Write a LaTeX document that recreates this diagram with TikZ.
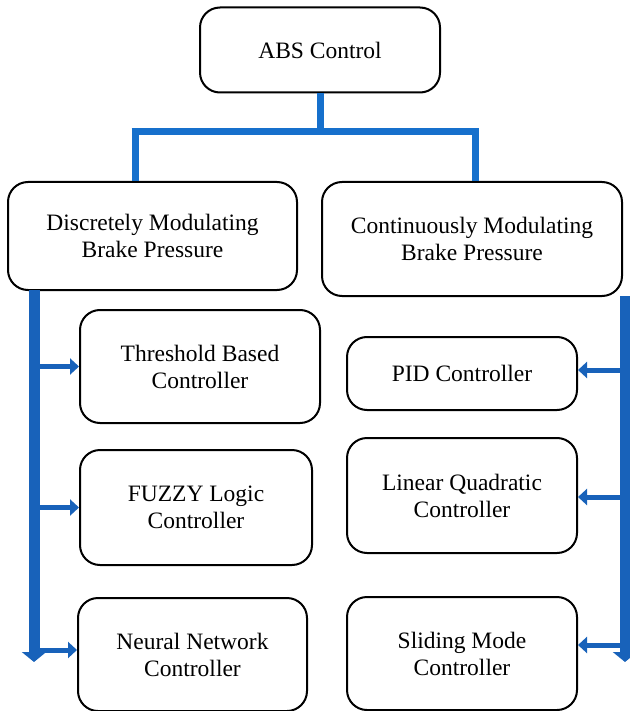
\documentclass[tikz,border=0pt]{standalone}
\usepackage{fontspec}
\setmainfont{Liberation Serif}
\usetikzlibrary{arrows.meta}
\usetikzlibrary{positioning}
\definecolor{treeblue}{RGB}{22,112,204}
\definecolor{barblue}{RGB}{24,98,186}

\begin{document}
\begin{tikzpicture}[x=1pt,y=-1pt,
  box/.style={draw,line width=2pt,rounded corners=20pt,align=center,
    font=\fontsize{23.5}{27}\selectfont,inner sep=0pt},
  tree/.style={draw=treeblue,line width=7pt},
  bar/.style={draw=barblue,line width=11pt},
  arr/.style={draw=barblue,line width=5pt,-{Triangle[width=16pt,length=9pt]}}]
\useasboundingbox (0,0) rectangle (629,711);
\node[box,minimum width=240pt,minimum height=85pt] (abs) at (320,50) {ABS Control};
\node[box,minimum width=289pt,minimum height=108pt] (disc) at (152.5,236)
  {Discretely Modulating\\Brake Pressure};
\node[box,minimum width=300pt,minimum height=114pt] (cont) at (472,239)
  {Continuously Modulating\\Brake Pressure};
\node[box,minimum width=240pt,minimum height=113pt] (thr) at (200,366.5)
  {Threshold Based\\Controller};
\node[box,minimum width=232pt,minimum height=115pt] (fuz) at (196,507.5)
  {FUZZY Logic\\Controller};
\node[box,minimum width=229pt,minimum height=113pt] (neu) at (192.5,654.5)
  {Neural Network\\Controller};
\node[box,minimum width=230pt,minimum height=73pt] (pid) at (462,373.5)
  {PID Controller};
\node[box,minimum width=230pt,minimum height=115pt] (lq) at (462,495.5)
  {Linear Quadratic\\Controller};
\node[box,minimum width=230pt,minimum height=113pt] (sld) at (462,653.5)
  {Sliding Mode\\Controller};
% top tree
\coordinate (bus) at (320,132);
\coordinate (lbus) at (135,132);
\coordinate (rbus) at (475,132);
\draw[tree] (abs.south) -- (bus);
\draw[tree] ([xshift=-3.5pt]lbus) -- ([xshift=3.5pt]rbus);
\draw[tree] (lbus) -- (lbus |- disc.north);
\draw[tree] (rbus) -- (rbus |- cont.north);
% left side
\coordinate (lbar) at (34,290);
\coordinate (lend) at (34,662);
\draw[bar,-{Triangle[width=24pt,length=10pt]}] (lbar) -- (lend);
\foreach \t in {thr,fuz} \draw[arr] (lbar |- \t.west) -- (\t.west);
\draw[arr] (lbar |- 0,650) -- (neu.west |- 0,650);
% right side
\coordinate (rbar) at (625,296);
\coordinate (rend) at (625,662);
\draw[bar,-{Triangle[width=24pt,length=10pt]}] (rbar) -- (rend);
\draw[arr] (rbar |- 0,370) -- (pid.east |- 0,370);
\draw[arr] (rbar |- 0,497) -- (lq.east |- 0,497);
\draw[arr] (rbar |- 0,645) -- (sld.east |- 0,645);
\end{tikzpicture}
\end{document}
